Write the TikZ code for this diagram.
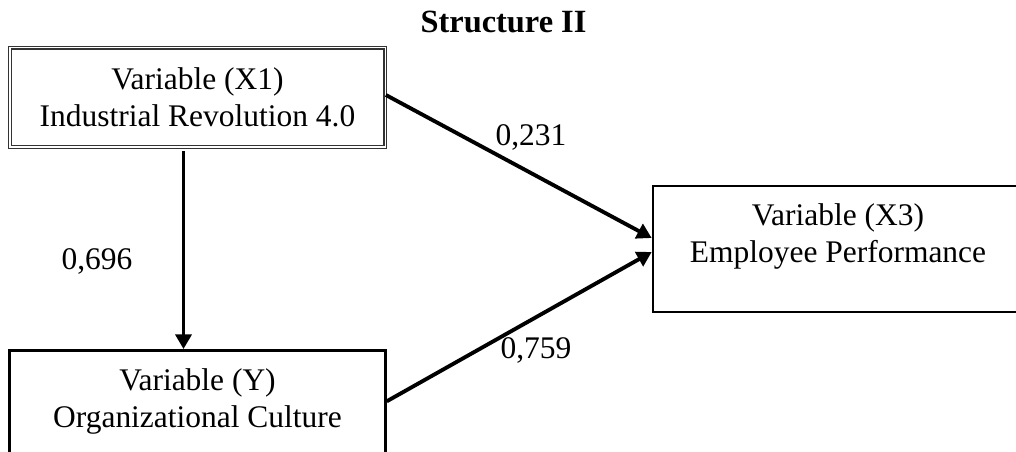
\documentclass[tikz,border=0pt]{standalone}
\usepackage{fontspec}
\setmainfont{Liberation Serif}
\usetikzlibrary{arrows.meta,positioning}
\tikzset{
  box/.style={draw, line width=1.9pt, align=center, inner sep=3pt, font={\fontsize{23.6}{27.75}\selectfont}},
  boxd/.style={box, line width=.9pt, draw=black!80, double, double distance=1.1pt},
  ar/.style={-{Triangle[length=11pt,width=12pt]}, line width=2.9pt},
  lbl/.style={inner sep=0pt, font={\fontsize{23.6}{27.75}\selectfont}},
  ttl/.style={inner sep=0pt, font={\bfseries\fontsize{24.3}{29}\selectfont}},
}
\begin{document}
\begin{tikzpicture}[x=.75pt, y=-.75pt]
  \useasboundingbox (0,0) rectangle (1016,452);
  \clip (0,0) rectangle (1016,452);
  \node[ttl] (title) at (503.5,21.5) {Structure II};
  \node[boxd, minimum width=281.6pt, minimum height=74.6pt] (x1) at (197.5,97.5) {Variable (X1)\\Industrial Revolution 4.0};
  \node[box, below=150.9pt of x1, minimum width=282pt, minimum height=120pt] (y) {Variable (Y)\\Organizational Culture\rule[-49pt]{0pt}{49pt}};
  \node[box, minimum width=277.5pt, minimum height=94.5pt] (x3) at (838,249) {Variable (X3)\\Employee Performance\rule[-23.6pt]{0pt}{23.6pt}};
  \draw[ar, shorten <=2.5pt] ([xshift=-10.5pt]x1.south) -- ([xshift=-10.5pt]y.north);
  \draw[ar] ([yshift=1.9pt]x1.east) -- ([yshift=8.25pt]x3.west);
  \draw[ar] ([yshift=21.75pt]y.east) -- ([yshift=-2.25pt]x3.west);
  \node[lbl] (w1) at (531,137.5) {0,231};
  \node[lbl] (w2) at (97,261) {0,696};
  \node[lbl] (w3) at (536,350) {0,759};
\end{tikzpicture}
\end{document}
